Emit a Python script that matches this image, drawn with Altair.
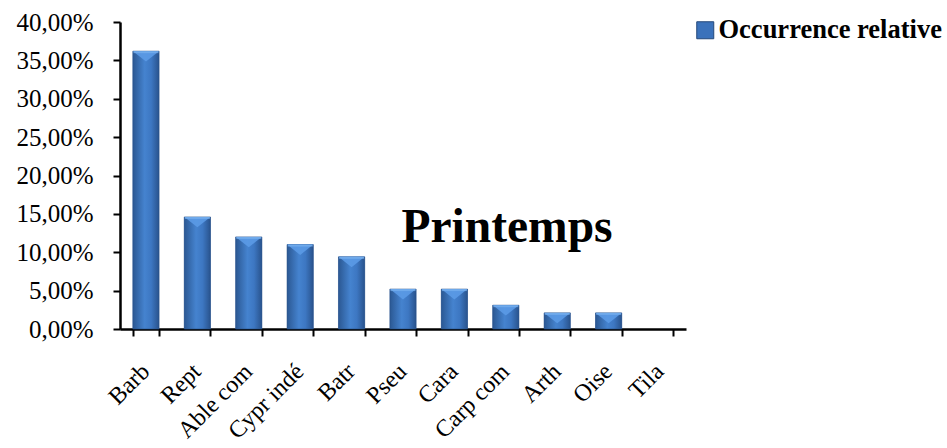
import altair as alt
import pandas as pd

# Relative occurrence of prey categories (spring)
categories = ["Barb", "Rept", "Able com", "Cypr indé", "Batr", "Pseu",
              "Cara", "Carp com", "Arth", "Oise", "Tila"]
values = [36.2, 14.6, 12.0, 11.0, 9.4, 5.2, 5.2, 3.1, 2.1, 2.1, 0.0]
series_name = "Occurrence relative"
y_ticks = [0, 5, 10, 15, 20, 25, 30, 35, 40]

df = pd.DataFrame({"cat": categories, "val": values, "serie": series_name})

FONT = "Liberation Serif"
pct_expr = "replace(format(datum.value, '.2f'), '.', ',') + '%'"

x_enc = alt.X(
    "cat:N", sort=categories, title=None,
    scale=alt.Scale(paddingInner=0.49, paddingOuter=0.25),
    axis=alt.Axis(labelAngle=-45, labelPadding=23, labelOffset=-9,
                  tickBand="extent", labelAlign="right", labelBaseline="top",
                  labelFontSize=24),
)
y_enc = alt.Y(
    "val:Q", title=None,
    scale=alt.Scale(domain=[0, 40], nice=False),
    axis=alt.Axis(values=y_ticks, labelExpr=pct_expr, labelPadding=20,
                  labelFontSize=25, grid=False),
)

base = alt.Chart(df)

# Solid layer carries the legend entry
legend_bars = base.mark_bar().encode(
    x=x_enc, y=y_enc,
    color=alt.Color("serie:N", title=None,
                    scale=alt.Scale(range=["#3b72bb"]),
                    legend=alt.Legend(orient="none", legendX=572, legendY=-5,
                                      symbolType="square", symbolSize=289,
                                      symbolStrokeColor="#24497a",
                                      symbolStrokeWidth=1, labelOffset=0,
                                      labelFont=FONT, labelFontSize=26.5,
                                      labelFontWeight="bold",
                                      labelColor="black", labelLimit=300)),
)

# Shaded bar bodies
grad = alt.Gradient(
    gradient="linear", x1=0, x2=1, y1=0, y2=0,
    stops=[alt.GradientStop(color="#2b5893", offset=0),
           alt.GradientStop(color="#4583cf", offset=0.45),
           alt.GradientStop(color="#3d77c2", offset=0.7),
           alt.GradientStop(color="#29538d", offset=1)],
)
shaded = base.transform_filter("datum.val > 0").mark_bar(
    color=grad, stroke="#2a5188", strokeWidth=0.6
).encode(x=x_enc, y=y_enc)

# Bevel on bar tops: light wedge plus a bright rim
wedge = base.transform_filter("datum.val > 0").mark_point(
    shape="M-1,0 L1,0 L0,0.8 Z", size=676, filled=True,
    color="#5b9ae6", opacity=0.9,
).encode(x=x_enc, y=y_enc)
caps = base.transform_filter("datum.val > 0").mark_tick(
    color="#79b2f0", thickness=2, size=25, yOffset=1
).encode(x=x_enc, y=y_enc)

title = alt.Chart(pd.DataFrame({"t": ["Printemps"]})).mark_text(
    font=FONT, fontSize=47.5, fontWeight="bold", color="black",
    align="center", baseline="alphabetic",
).encode(text="t:N", x=alt.value(387), y=alt.value(220))

chart = alt.layer(legend_bars, shaded, wedge, caps, title).properties(
    width=566, height=307,
    autosize=alt.AutoSizeParams(type="none"),
    padding={"left": 120, "top": 22, "right": 261, "bottom": 119},
).configure(
    background="white",
).configure_view(
    stroke=None,
).configure_axis(
    labelFont=FONT, labelColor="black",
    tickSize=7, tickWidth=2, tickColor="black",
    domainColor="black", domainWidth=2.5,
)

chart.save("out.html", embed_options={"renderer": "svg", "actions": False})
